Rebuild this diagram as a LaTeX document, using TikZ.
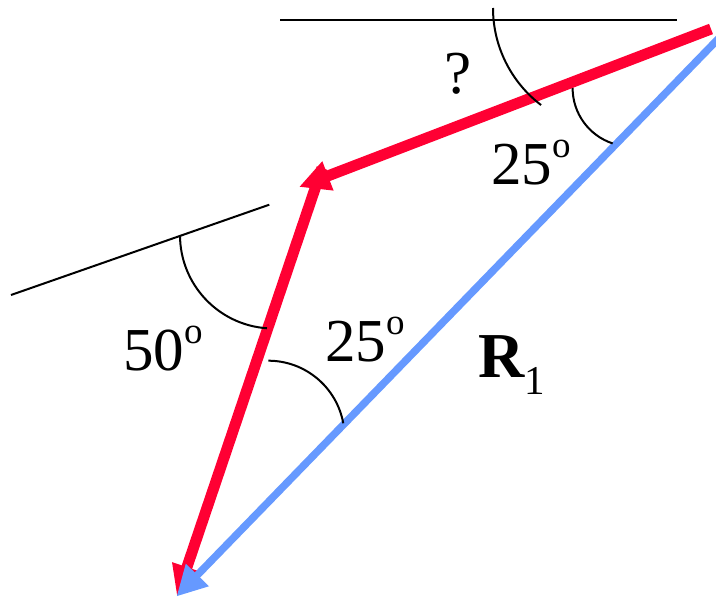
\documentclass[tikz,border=0pt]{standalone}
\usepackage{fontspec}
\setmainfont{Liberation Serif}
\usetikzlibrary{arrows.meta}
\definecolor{vred}{RGB}{255,0,51}
\definecolor{vblue}{RGB}{102,153,255}
\newcommand\degsup{\raisebox{27pt}{\fontsize{37}{37}\selectfont o}}
\begin{document}
\begin{tikzpicture}[x=1pt,y=1pt,
  thin line/.style={draw=black,line width=2pt},
  red vec/.style={draw=vred,line width=11pt,-{Triangle[length=31pt,width=29pt]}},
  blue vec/.style={draw=vblue,line width=7.5pt,-{Triangle[length=30pt,width=30pt]}},
  lbl/.style={inner sep=0pt,anchor=base west,font=\fontsize{61}{61}\selectfont}]
\useasboundingbox (0,0) rectangle (716,598);
% reference lines
\coordinate (h1) at (280,578);
\coordinate (h2) at (677,578);
\coordinate (l1) at (11,303);
\coordinate (l2) at (269.3,393.3);
\draw[thin line] (h1) -- (h2);
\draw[thin line] (l1) -- (l2);
% vectors
\coordinate (r1s) at (711,569);
\coordinate (r1e) at (299,411);
\coordinate (r2s) at (322,430);
\coordinate (r2e) at (177,1.5);
\coordinate (bs) at (722,563);
\coordinate (be) at (176.5,1.5);
\draw[red vec] (r1s) -- (r1e);
\draw[red vec] (r2s) -- (r2e);
\draw[blue vec] (bs) -- (be);
% angle arcs
\draw[thin line] (493,590) arc[start angle=180,end angle=232.7,radius=122];
\draw[thin line] (572.6,510) arc[start angle=180,end angle=251.7,radius=58.4];
\draw[thin line] (180,363) arc[start angle=180,end angle=266,radius=93.5];
\draw[thin line] (268.3,237.3) arc[start angle=90,end angle=10.3,radius=76.2];
% labels
\node[lbl] (q) at (444,504.7) {?};
\node[lbl] (a1) at (491,413) {25\degsup};
\node[lbl] (a2) at (123,227) {50\degsup};
\node[lbl] (a3) at (325,236.5) {25\degsup};
\node[lbl,font=\fontsize{64}{64}\selectfont] (R) at (478,220) {\textbf{R}\raisebox{-17pt}{\fontsize{41}{41}\selectfont 1}};
\end{tikzpicture}
\end{document}
